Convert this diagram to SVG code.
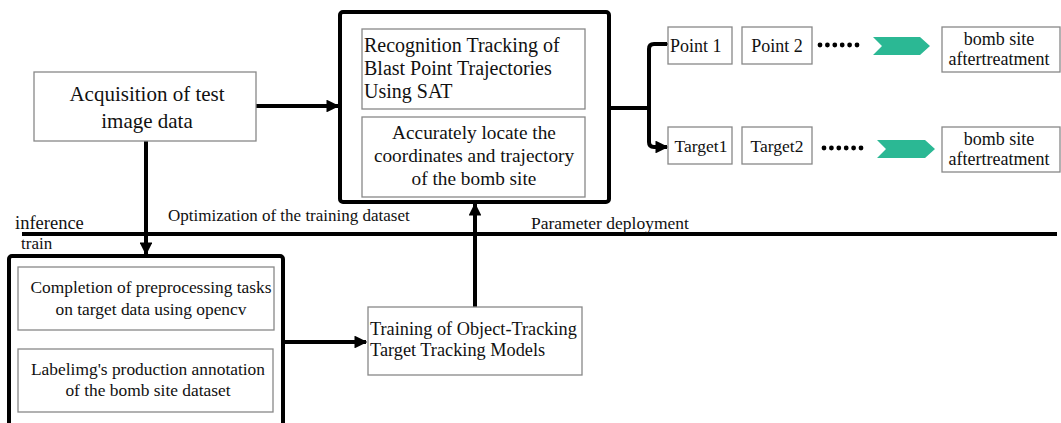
<svg xmlns="http://www.w3.org/2000/svg" width="1061" height="423" viewBox="0 0 1061 423">
<defs>
<style>
text{font-family:'Liberation Serif','DejaVu Serif','Times New Roman',serif;fill:#111}
.box{fill:#fff;stroke:#888;stroke-width:1.3}
.big{fill:#fff;stroke:#000;stroke-width:4}
.ln{fill:none;stroke:#000;stroke-width:4}
.chev{fill:#2bb894}
</style>
<marker id="ah" viewBox="0 0 10 10" refX="9" refY="5" markerWidth="3.2" markerHeight="3.2" orient="auto" markerUnits="strokeWidth">
<path d="M0,0 L10,5 L0,10 z" fill="#000"/>
</marker>
</defs>
<rect width="1061" height="423" fill="#fff"/>

<g id="divider">
<line x1="22" y1="234" x2="1057" y2="234" class="ln" stroke-width="4.5"/>
<text x="15" y="229" font-size="18.5">inference</text>
<text x="21" y="249" font-size="17">train</text>
<text x="168" y="221" font-size="17">Optimization of the training dataset</text>
<text x="531" y="229" font-size="17.5">Parameter deployment</text>
</g>

<g id="connectors">
<line x1="256" y1="106" x2="338" y2="106" class="ln" marker-end="url(#ah)"/>
<line x1="146" y1="141" x2="146" y2="254" class="ln" marker-end="url(#ah)"/>
<line x1="283" y1="342" x2="366" y2="342" class="ln" marker-end="url(#ah)"/>
<line x1="475" y1="307" x2="475" y2="204" class="ln" marker-end="url(#ah)"/>
<path d="M609,108 H649" class="ln"/>
<path d="M667,44 H654 Q649,44 649,49 V142 Q649,147 654,147 H667" class="ln" marker-start="url(#ah)" marker-end="url(#ah)"/>
</g>

<g id="acquisition">
<rect x="34" y="72" width="222" height="69" class="box"/>
<text x="147" y="101" font-size="21" text-anchor="middle">Acquisition of test</text>
<text x="147" y="128" font-size="21" text-anchor="middle">image data</text>
</g>

<g id="inference-block">
<rect x="340" y="12" width="269" height="190" rx="3" class="big"/>
<rect x="362" y="29" width="223" height="80" class="box"/>
<text x="364" y="52" font-size="20">Recognition Tracking of</text>
<text x="364" y="75" font-size="20">Blast Point Trajectories</text>
<text x="364" y="98" font-size="20">Using SAT</text>
<rect x="362" y="117" width="223" height="80" class="box"/>
<text x="474" y="139" font-size="19.3" text-anchor="middle">Accurately locate the</text>
<text x="474" y="162" font-size="19.3" text-anchor="middle">coordinates and trajectory</text>
<text x="474" y="185" font-size="19.3" text-anchor="middle">of the bomb site</text>
</g>

<g id="point1">
<rect x="668" y="27" width="64" height="37" class="box"/>
<text x="670" y="52" font-size="18">Point 1</text>
</g>
<g id="point2">
<rect x="742" y="27" width="70" height="37" class="box"/>
<text x="777" y="52" font-size="18" text-anchor="middle">Point 2</text>
</g>
<g id="dots1" fill="#000">
<circle cx="820" cy="45" r="2.4"/><circle cx="827.4" cy="45" r="2.4"/><circle cx="834.8" cy="45" r="2.4"/><circle cx="842.2" cy="45" r="2.4"/><circle cx="849.6" cy="45" r="2.4"/><circle cx="857" cy="45" r="2.4"/>
</g>
<g id="chevron1"><polygon class="chev" points="873,37 920,37 930,46 920,55 873,55 882,46"/></g>
<g id="aftertreatment1">
<rect x="942" y="27" width="118" height="45" class="box"/>
<text x="999" y="45" font-size="18" text-anchor="middle">bomb site</text>
<text x="999" y="65" font-size="18" text-anchor="middle">aftertreatment</text>
</g>

<g id="target1">
<rect x="668" y="127" width="64" height="37" class="box"/>
<text x="701" y="152" font-size="17.5" text-anchor="middle">Target1</text>
</g>
<g id="target2">
<rect x="742" y="127" width="70" height="37" class="box"/>
<text x="777" y="152" font-size="17.5" text-anchor="middle">Target2</text>
</g>
<g id="dots2" fill="#000">
<circle cx="824" cy="148" r="2.4"/><circle cx="831.4" cy="148" r="2.4"/><circle cx="838.8" cy="148" r="2.4"/><circle cx="846.2" cy="148" r="2.4"/><circle cx="853.6" cy="148" r="2.4"/><circle cx="861" cy="148" r="2.4"/>
</g>
<g id="chevron2"><polygon class="chev" points="877,140 925,140 935,149 925,158 877,158 886,149"/></g>
<g id="aftertreatment2">
<rect x="942" y="127" width="118" height="45" class="box"/>
<text x="999" y="145" font-size="18" text-anchor="middle">bomb site</text>
<text x="999" y="165" font-size="18" text-anchor="middle">aftertreatment</text>
</g>

<g id="train-block">
<rect x="9" y="256" width="274" height="175" rx="3" class="big"/>
<rect x="18" y="267" width="256" height="63" class="box"/>
<text x="151" y="293" font-size="17.4" text-anchor="middle">Completion of preprocessing tasks</text>
<text x="151" y="315" font-size="17.4" text-anchor="middle">on target data using opencv</text>
<rect x="18" y="349" width="255" height="63" class="box"/>
<text x="148" y="375" font-size="17.4" text-anchor="middle">Labelimg's production annotation</text>
<text x="148" y="396" font-size="17.4" text-anchor="middle">of the bomb site dataset</text>
</g>

<g id="training">
<rect x="368" y="307" width="214" height="68" class="box"/>
<text x="370" y="335" font-size="18.3">Training of Object-Tracking</text>
<text x="370" y="356" font-size="18.3">Target Tracking Models</text>
</g>
</svg>
